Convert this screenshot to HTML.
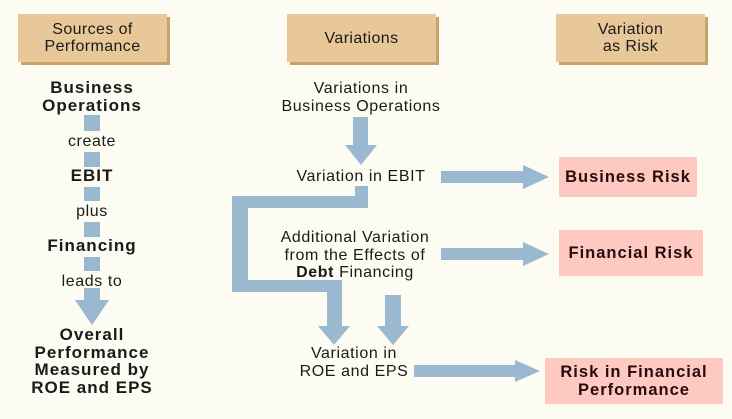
<!DOCTYPE html>
<html><head><style>
body{margin:0;width:732px;height:419px;background:#fdfcf2;position:relative;overflow:hidden;font-family:"Liberation Sans",sans-serif;color:#1a1a1a}
.h{position:absolute;width:149px;height:48px;background:#e8c898;box-shadow:3px 3px 0 #c9a26a;text-align:center;font-size:16px;letter-spacing:0.4px;line-height:17px;display:flex;align-items:center;justify-content:center}
.t{position:absolute;text-align:center;font-size:16px;letter-spacing:0.6px;line-height:17.5px;white-space:nowrap}
.b{font-weight:bold;letter-spacing:1px}
.r{position:absolute;background:#fdc9c0;font-weight:bold;font-size:16.5px;letter-spacing:1px;line-height:18px;color:#2a0a0a;display:flex;align-items:center;justify-content:center;text-align:center}
</style></head><body>
<div class="h" style="left:18px;top:14px">Sources of<br>Performance</div>
<div class="h" style="left:287px;top:14px">Variations</div>
<div class="h" style="left:556px;top:14px">Variation<br>as Risk</div>

<svg width="732" height="419" style="position:absolute;left:0;top:0" fill="#9ab8d0">
<rect x="84" y="115" width="16" height="16"/>
<rect x="84" y="152" width="16" height="15"/>
<rect x="84" y="187" width="16" height="14"/>
<rect x="84" y="222" width="16" height="15"/>
<rect x="84" y="257" width="16" height="14"/>
<polygon points="84,288 100,288 100,300 109,300 92,325 75,300 84,300"/>
<polygon points="353,117 368,117 368,145 377,145 361,165 345,145 353,145"/>
<polygon points="441,171 523,171 523,165 549,177 523,189 523,183 441,183"/>
<polygon points="441,248 523,248 523,242 549,254 523,266 523,260 441,260"/>
<polygon points="414,365 515,365 515,360 540,371 515,382 515,377 414,377"/>
<polygon points="355,186 368,186 368,208 248,208 248,280 342,280 342,326 350,326 334,345 318,326 327,326 327,292 232,292 232,196 355,196"/>
<polygon points="385,295 401,295 401,326 409,326 393,345 377,326 385,326"/>
</svg>

<div class="t b" style="left:22px;top:79px;width:140px;font-size:17px;line-height:18px">Business<br>Operations</div>
<div class="t" style="left:42px;top:133px;width:100px">create</div>
<div class="t b" style="left:42px;top:167px;width:100px;font-size:17px">EBIT</div>
<div class="t" style="left:42px;top:203px;width:100px">plus</div>
<div class="t b" style="left:22px;top:237px;width:140px;font-size:17px">Financing</div>
<div class="t" style="left:32px;top:273px;width:120px">leads to</div>
<div class="t b" style="left:2px;top:326px;width:180px;font-size:17px">Overall<br>Performance<br>Measured by<br>ROE and EPS</div>

<div class="t" style="left:261px;top:80px;width:200px">Variations in<br>Business Operations</div>
<div class="t" style="left:261px;top:168px;width:200px">Variation in EBIT</div>
<div class="t" style="left:255px;top:229px;width:200px">Additional Variation<br>from the Effects of<br><b>Debt</b> Financing</div>
<div class="t" style="left:254px;top:345px;width:200px">Variation in<br>ROE and EPS</div>

<div class="r" style="left:559px;top:157px;width:138px;height:40px">Business Risk</div>
<div class="r" style="left:559px;top:230px;width:144px;height:46px">Financial Risk</div>
<div class="r" style="left:545px;top:358px;width:178px;height:46px">Risk in Financial<br>Performance</div>
</body></html>
